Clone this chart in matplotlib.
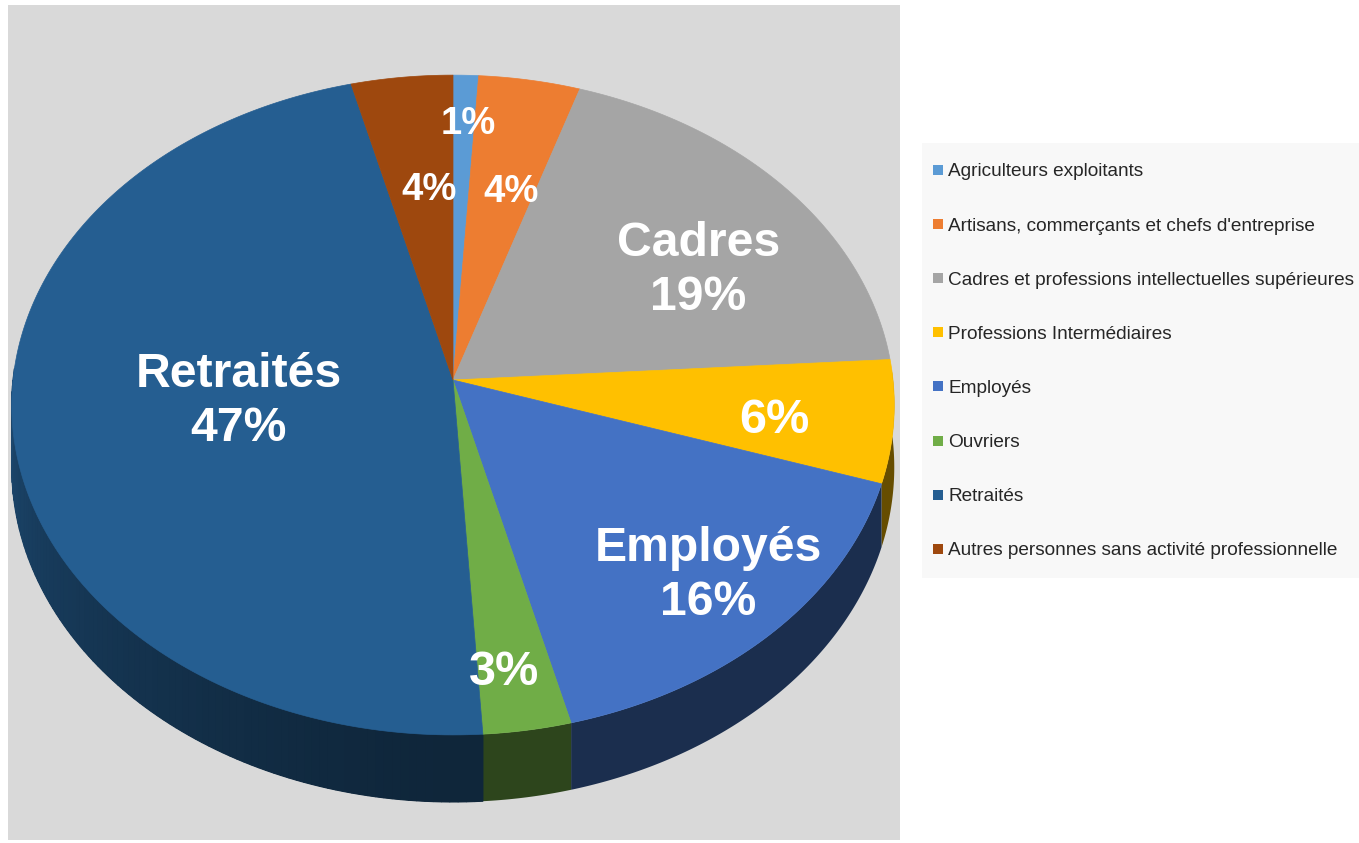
import numpy as np
import matplotlib.pyplot as plt
from matplotlib.patches import Polygon, Rectangle
from matplotlib.colors import to_rgb

plt.rcParams['font.family'] = ['Liberation Sans', 'DejaVu Sans']

# categories, shares (%) and slice colours, clockwise from 12 o'clock
categories = [
    "Agriculteurs exploitants",
    "Artisans, commerçants et chefs d'entreprise",
    "Cadres et professions intellectuelles supérieures",
    "Professions Intermédiaires",
    "Employés",
    "Ouvriers",
    "Retraités",
    "Autres personnes sans activité professionnelle",
]
shares = [1, 4, 19, 6, 16, 3, 47, 4]
short_names = ["", "", "Cadres", "", "Employés", "", "Retraités", ""]
colors = ["#5B9BD5", "#ED7D31", "#A5A5A5", "#FFC000",
          "#4472C4", "#70AD47", "#255E91", "#9E480E"]

# pie geometry in pixels (y grows downward)
W, H = 1359, 843
cx, cy = 453, 380
a, b = 440, 328
k = 0.0758          # perspective strength
depth = 62

# label placement (radial factors in x / y) and font sizes
label_r = [(1.2, 0.85), (0.74, 0.63), (0.73, 0.59), (0.73, 0.84),
           (0.81, 0.76), (0.70, 0.83), (0.49, 0.30), (0.45, 0.63)]
label_fs = [27.5, 27.5, 34.7, 35, 34.7, 35, 34.7, 27.5]


def project(theta, r=1.0, down=0.0):
    # theta in degrees, clockwise from the top of the pie
    t = np.radians(theta)
    u = r * np.sin(t)
    v = -r * np.cos(t)
    s = 1.0 / (1.0 - k * v)
    return cx + a * u * s, cy + b * v * s + down * s


def side_shade(theta):
    # left part of the wall is lit, the front gets darker
    if theta <= 180:
        return 0.4
    f = min((theta - 180) / 90.0, 1.0)
    return 0.4 + 0.36 * f ** 1.3


fig = plt.figure(figsize=(W / 100, H / 100), dpi=100)
ax = fig.add_axes([0, 0, 1, 1])
ax.set_xlim(0, W)
ax.set_ylim(H, 0)
ax.axis('off')

# chart area and legend panel
ax.add_patch(Rectangle((8, 5), 892, 835, facecolor='#D9D9D9', edgecolor='none'))
ax.add_patch(Rectangle((922, 143), 450, 435, facecolor='#F8F8F8', edgecolor='none'))

bounds = np.concatenate([[0], np.cumsum(shares)]) * 3.6

# side walls (only the front half is visible)
for i, col in enumerate(colors):
    t0, t1 = max(bounds[i], 88), min(bounds[i + 1], 272)
    if t1 <= t0:
        continue
    base = np.array(to_rgb(col))
    arc = np.linspace(t0, t1, max(int((t1 - t0) * 2), 4))
    wall = [project(t) for t in arc] + [project(t, down=depth) for t in arc[::-1]]
    ax.add_patch(Polygon(wall, closed=True, facecolor=base * 0.4, edgecolor='none'))
    if t1 > 180:
        # shaded strips over the lit part of the wall
        steps = np.linspace(t0, t1, int(t1 - t0) + 2)
        for ta, tb in zip(steps[:-1], steps[1:]):
            p = [project(ta), project(tb), project(tb, down=depth), project(ta, down=depth)]
            c = base * side_shade((ta + tb) / 2)
            ax.add_patch(Polygon(p, closed=True, facecolor=c, edgecolor=c, linewidth=0.8))

# top faces
for i, col in enumerate(colors):
    th = np.linspace(bounds[i], bounds[i + 1], max(int(shares[i] * 4), 4))
    pts = [(cx, cy)] + [project(t) for t in th]
    ax.add_patch(Polygon(pts, closed=True, facecolor=col, edgecolor=col, linewidth=0.5))

# data labels
for i in range(len(shares)):
    mid = (bounds[i] + bounds[i + 1]) / 2
    rx, ry = label_r[i]
    x, _ = project(mid, rx)
    _, y = project(mid, ry)
    txt = f"{shares[i]}%"
    if short_names[i]:
        txt = short_names[i] + "\n" + txt
    ax.text(x, y + 6, txt, ha='center', va='center', color='white',
            fontsize=label_fs[i], fontweight='bold', linespacing=1.26)

# legend
for i, (name, col) in enumerate(zip(categories, colors)):
    y = 170 + i * 54.1
    ax.add_patch(Rectangle((933, y - 5), 10, 10, facecolor=col, edgecolor='none'))
    ax.text(948, y + 2, name, ha='left', va='center', fontsize=13.7, color='#262626')

fig.savefig('out.png', dpi=100, facecolor='white')
